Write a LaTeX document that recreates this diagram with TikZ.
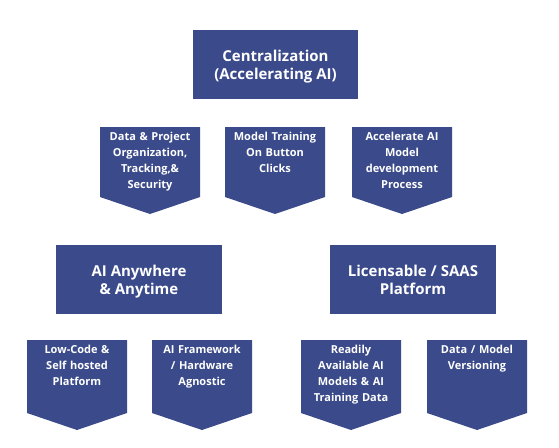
\documentclass[tikz,border=0pt]{standalone}
\usepackage{fontspec}
\setmainfont{Open Sans}
\usepackage{tikz}
\definecolor{boxblue}{HTML}{3A4A8A}
\tikzset{
	% big rectangular headings and the text inside the arrow boxes
	big box/.style={rectangle,fill=boxblue,text=white,align=center,minimum width=166,minimum height=69,inner sep=0,text depth=0pt,font=\bfseries\fontsize{15}{18}\selectfont},
	chev text/.style={anchor=north,text=white,align=center,text width=98,inner sep=0,font=\bfseries\fontsize{11}{16}\selectfont}
}
\begin{document}
\begin{tikzpicture}[x=1pt,y=-1pt]
	% macro for arrow shaped boxes: name, left, top, height, text
	\newcommand{\chevron}[5]{
		\fill[boxblue](#2,#3)--++(100,0)--++(0,#4)--++(-50,17)--++(-50,-17)--cycle;
		\node[chev text](#1)at(#2+50,#3+5){#5};
	}
	\useasboundingbox (0,0) rectangle (559,447);
	
	\node(top)[big box,minimum width=165]at(275.5,64.5){Centralization\\(Accelerating AI)};
	
	\chevron{data}{100}{127}{70}{Data \& Project\\Organization,\\Tracking,\&\\Security}
	\chevron{train}{225}{127}{70}{Model Training\\On Button\\Clicks}
	\chevron{accel}{352}{127}{70}{Accelerate AI\\Model\\development\\Process}
	
	\node(any)[big box]at(139,279.5){AI Anywhere\\\& Anytime};
	\node(saas)[big box]at(413,279.5){Licensable / SAAS\\Platform};
	
	\chevron{lowcode}{27}{340}{73}{Low-Code \&\\Self hosted\\Platform}
	\chevron{agnostic}{152}{340}{73}{AI Framework\\/ Hardware\\Agnostic}
	\chevron{models}{301}{340}{73}{Readily\\Available AI\\Models \& AI\\Training Data}
	\chevron{version}{427}{340}{73}{Data / Model\\Versioning}
\end{tikzpicture}
\end{document}
